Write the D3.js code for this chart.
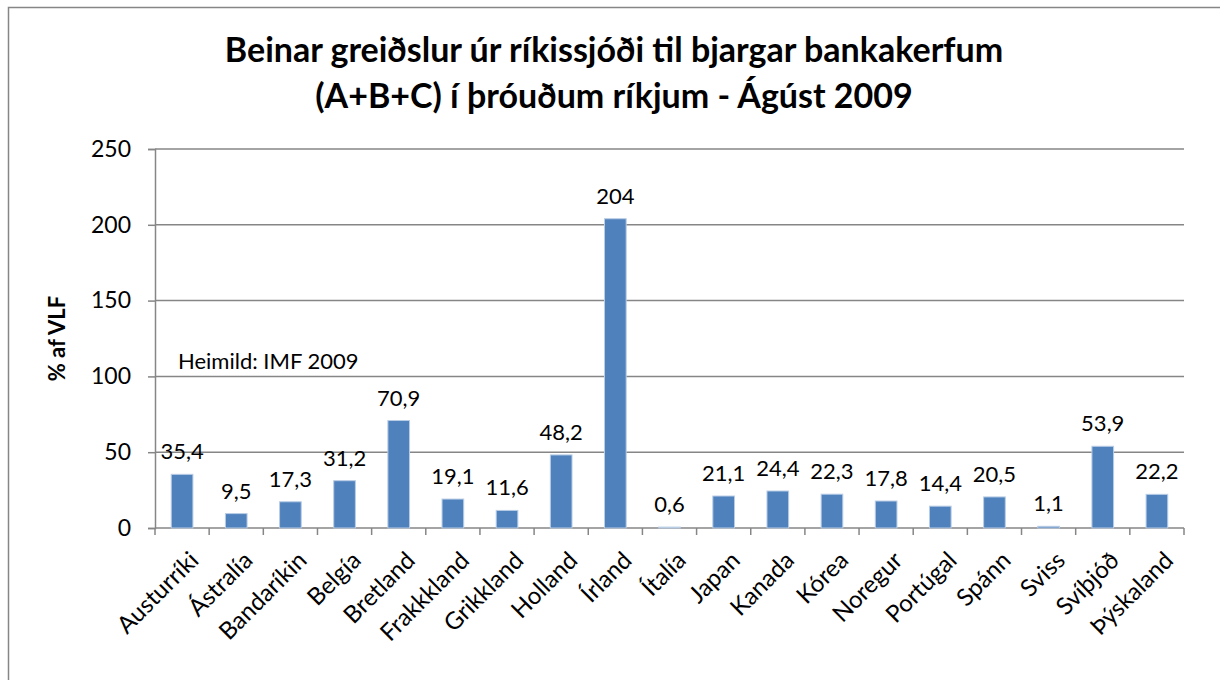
<!DOCTYPE html>
<html>
<head>
<meta charset="utf-8">
<script src="https://cdn.jsdelivr.net/npm/d3@7"></script>
<style>
  body { margin: 0; background: #fff; }
  svg text { font-family: Lato, "Open Sans", sans-serif; fill: #000; }
</style>
</head>
<body>
<div id="chart"></div>
<script>
// Beinar greiðslur úr ríkissjóði - % af VLF
const countries = ['Austurríki','Ástralía','Bandaríkin','Belgía','Bretland','Frakkkland','Grikkland','Holland','Írland','Ítalía','Japan','Kanada','Kórea','Noregur','Portúgal','Spánn','Sviss','Svíþjóð','Þýskaland'];
const values = [35.4, 9.5, 17.3, 31.2, 70.9, 19.1, 11.6, 48.2, 204, 0.6, 21.1, 24.4, 22.3, 17.8, 14.4, 20.5, 1.1, 53.9, 22.2];
const yTicks = [0, 50, 100, 150, 200, 250];
const titleLines = ['Beinar greiðslur úr ríkissjóði til bjargar bankakerfum', '(A+B+C) í þróuðum ríkjum - Ágúst 2009'];

const W = 1220, H = 680;
const m = {left: 155, right: 36, top: 149, bottom: 152};
const svg = d3.select('#chart').append('svg').attr('width', W).attr('height', H);

svg.append('rect').attr('x', 8.5).attr('y', 7.5).attr('width', 1240).attr('height', 700)
  .attr('fill', '#fff').attr('stroke', '#868686').attr('stroke-width', 1.5);

const x = d3.scaleBand().domain(countries).range([m.left, W - m.right]).paddingInner(0.6).paddingOuter(0.3);
const y = d3.scaleLinear().domain([0, 250]).range([H - m.bottom, m.top]);

// grid
svg.append('g').selectAll('line').data(yTicks.filter(d => d > 0)).enter().append('line')
  .attr('x1', m.left).attr('x2', W - m.right)
  .attr('y1', d => y(d)).attr('y2', d => y(d))
  .attr('stroke', '#868686').attr('stroke-width', 1.5);

// y axis
const ya = svg.append('g').attr('transform', `translate(${m.left},0)`)
  .call(d3.axisLeft(y).tickValues(yTicks).tickSize(7).tickPadding(17));
ya.select('.domain').attr('stroke', '#868686').attr('stroke-width', 1.5);
ya.selectAll('.tick line').attr('stroke', '#868686').attr('stroke-width', 1.5);
ya.selectAll('.tick text').attr('font-size', 23).style('font-family', 'Lato, sans-serif');

// x axis
const band = (W - m.right - m.left) / countries.length;
const xa = svg.append('g').attr('transform', `translate(0,${y(0)})`);
xa.append('line').attr('x1', m.left).attr('x2', W - m.right).attr('stroke', '#868686').attr('stroke-width', 1.5);
xa.selectAll('line.tk').data(d3.range(countries.length + 1)).enter().append('line').attr('class', 'tk')
  .attr('x1', i => m.left + i * band).attr('x2', i => m.left + i * band)
  .attr('y1', 0).attr('y2', 7).attr('stroke', '#868686').attr('stroke-width', 1.5);
xa.selectAll('text').data(countries).enter().append('text')
  .attr('transform', d => `translate(${x(d) + x.bandwidth() / 2 + 6},22) rotate(-45)`)
  .attr('text-anchor', 'end').attr('dy', '0.7em').attr('font-size', 24).text(d => d);

// bars
svg.append('g').selectAll('rect').data(countries).enter().append('rect')
  .attr('x', d => x(d)).attr('width', x.bandwidth())
  .attr('y', (d, i) => y(values[i])).attr('height', (d, i) => y(0) - y(values[i]))
  .attr('fill', '#4F81BD').attr('stroke', '#b9cde5').attr('stroke-width', 1);

// value labels
svg.append('g').selectAll('text').data(countries).enter().append('text')
  .attr('x', d => x(d) + x.bandwidth() / 2)
  .attr('y', (d, i) => y(values[i]) - 15)
  .attr('text-anchor', 'middle').attr('font-size', 22)
  .text((d, i) => String(values[i]).replace('.', ','));

// title
svg.append('text').attr('x', 614).attr('y', 0).attr('text-anchor', 'middle')
  .attr('font-size', 34).attr('font-weight', 700)
  .selectAll('tspan').data(titleLines).enter().append('tspan')
  .attr('x', 614).attr('y', (d, i) => 62 + i * 46).text(d => d);

// y axis title
svg.append('text').attr('transform', `translate(65,${(y(0) + y(250)) / 2}) rotate(-90)`)
  .attr('text-anchor', 'middle').attr('font-size', 22).attr('font-weight', 700).text('% af VLF');

// source note
svg.append('text').attr('x', 178).attr('y', 369).attr('font-size', 22).text('Heimild: IMF 2009');
</script>
</body>
</html>
